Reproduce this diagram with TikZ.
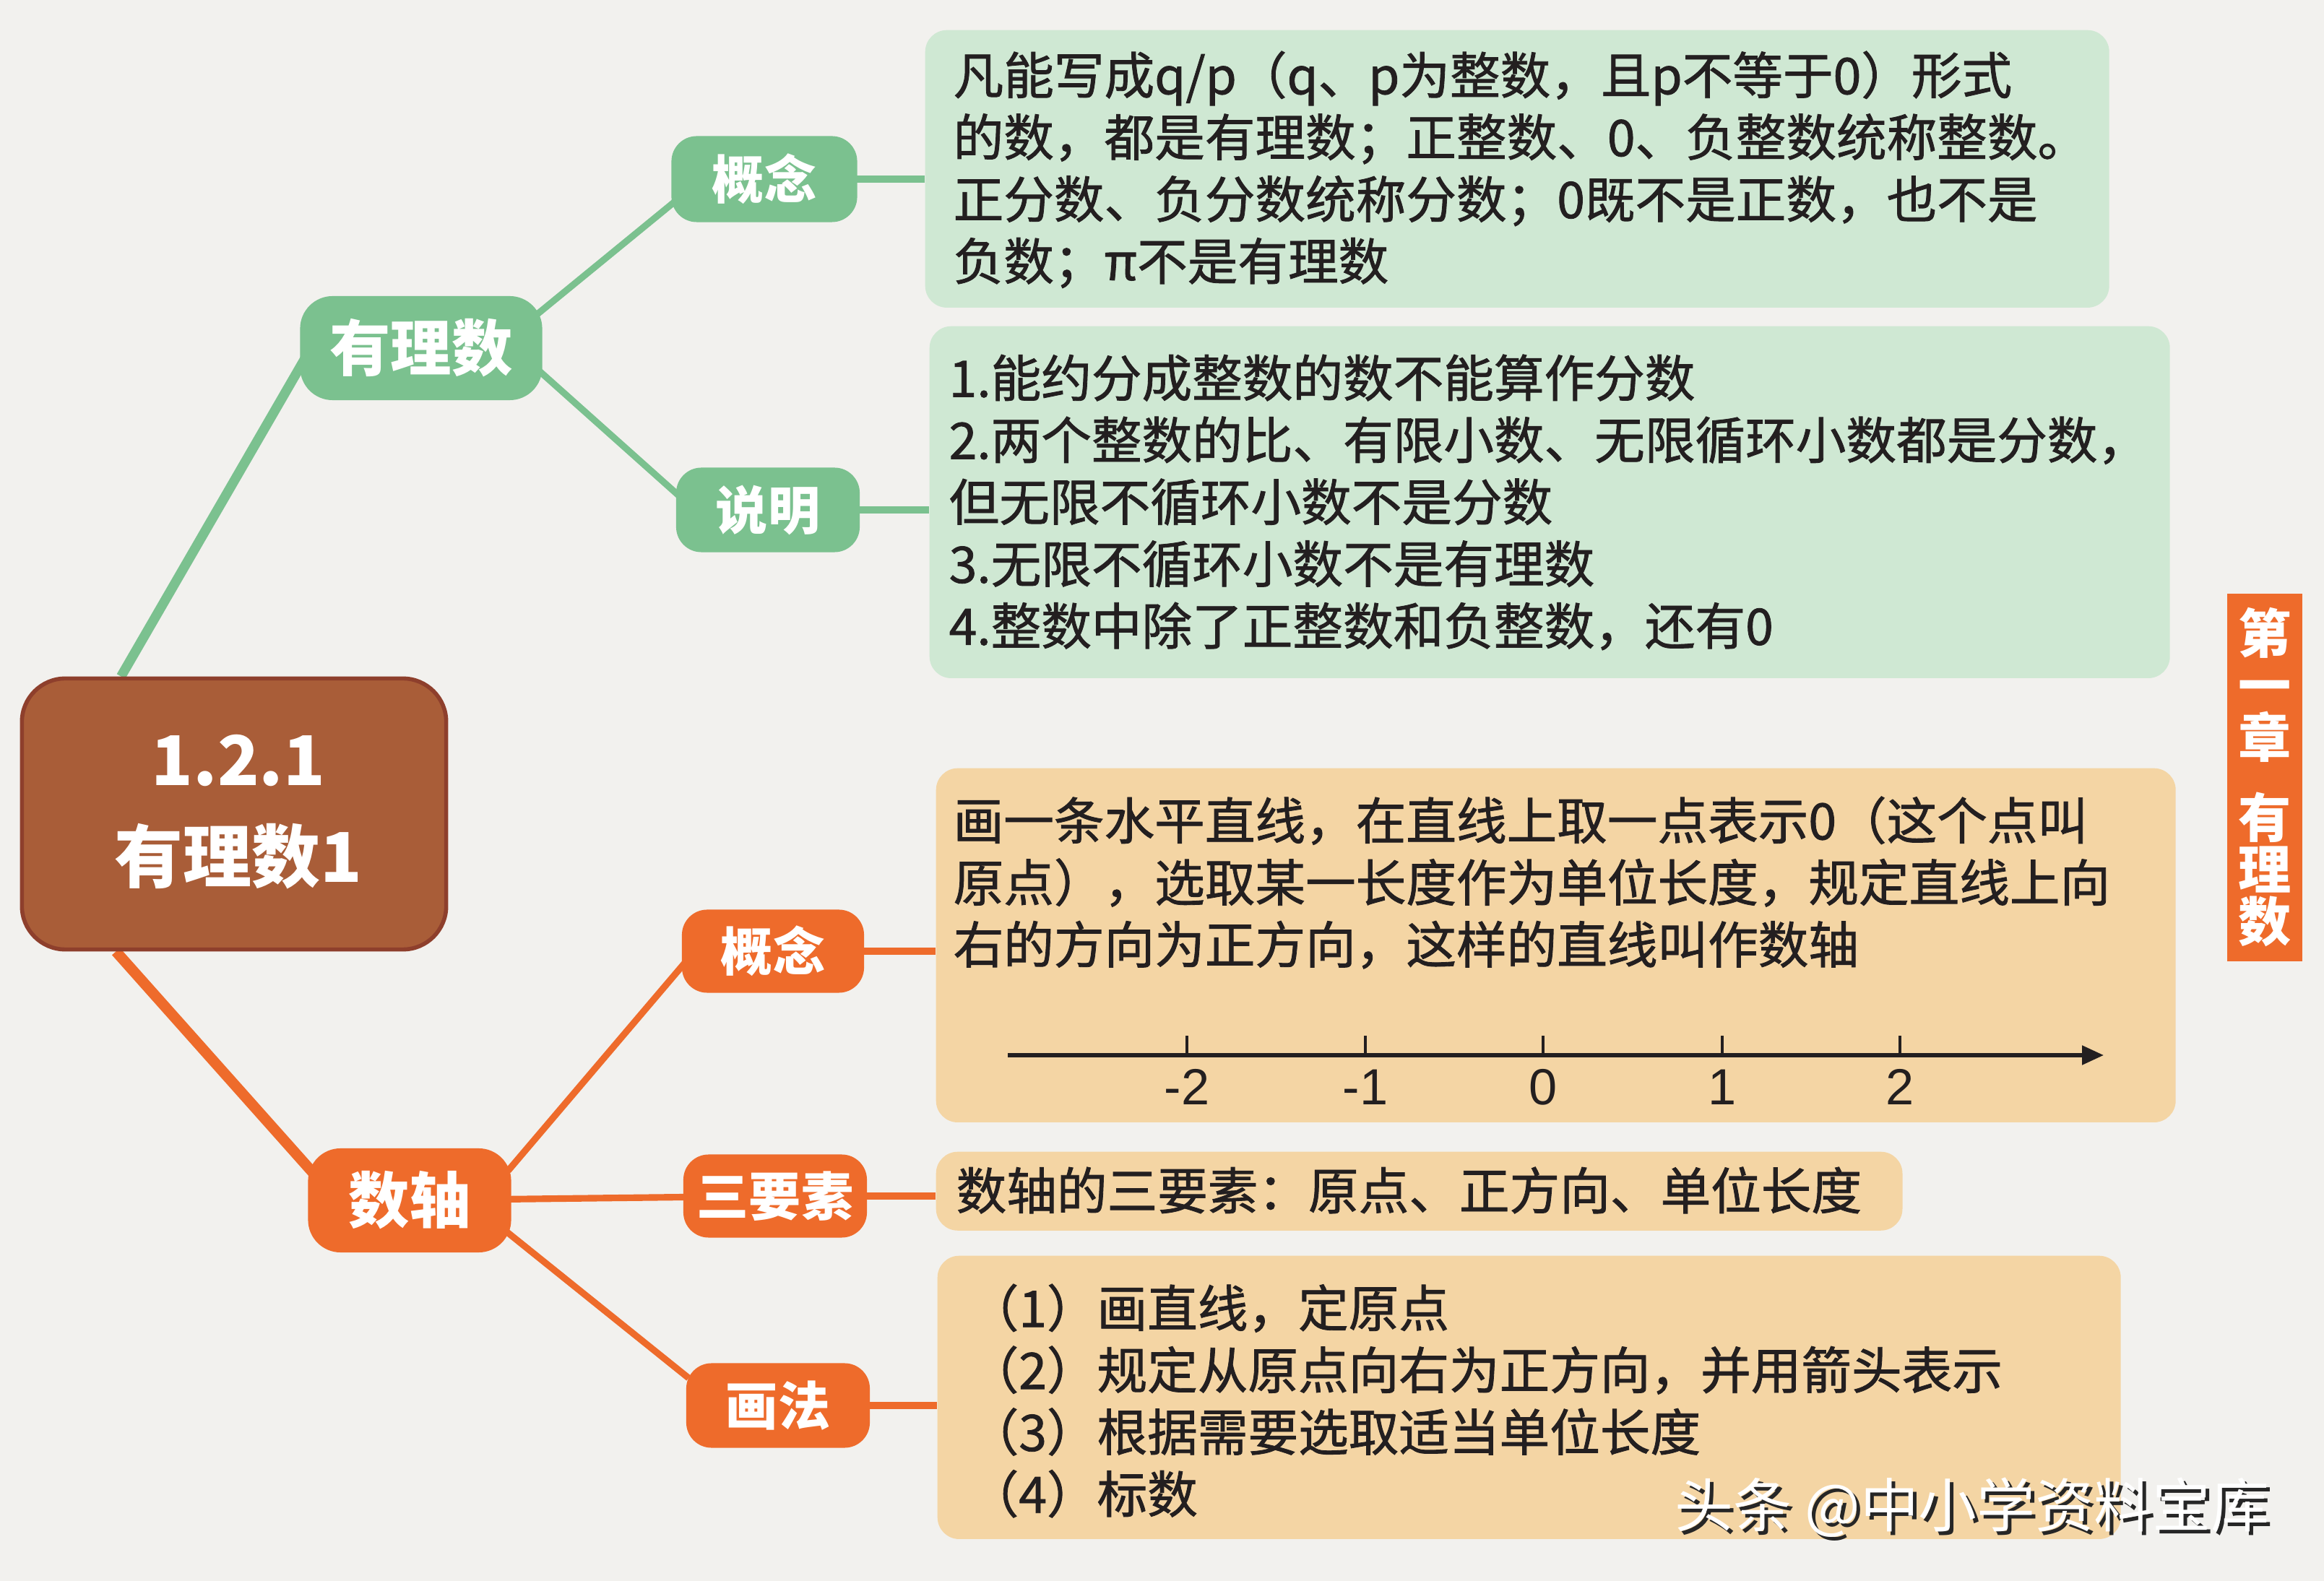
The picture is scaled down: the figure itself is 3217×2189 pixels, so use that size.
\documentclass[tikz,border=0pt]{standalone}
\usepackage{fontspec}
\setmainfont{Noto Sans CJK SC}
\newfontfamily\bodyfont{Noto Sans CJK SC}[FakeBold=1.2]
\newfontfamily\numfont{Liberation Sans}
\usetikzlibrary{arrows.meta,calc,backgrounds}
\definecolor{bg}{HTML}{F2F1EE}
\definecolor{gr}{HTML}{7BC18F}
\definecolor{lgr}{HTML}{CFE8D3}
\definecolor{org}{HTML}{EE6B2B}
\definecolor{peach}{HTML}{F4D5A4}
\definecolor{brownf}{HTML}{A95D38}
\definecolor{browne}{HTML}{8E3F2C}
\definecolor{ink}{HTML}{231F20}
\begin{document}
\begin{tikzpicture}[x=0.01cm,y=-0.01cm,
  txt/.style={font=\bodyfont\fontsize{19.8}{24.4}\selectfont, text=ink, align=left, anchor=north west, inner sep=0pt},
  gline/.style={line width=2.6pt, draw=gr},
  oline/.style={line width=2.6pt, draw=org},
  gmain/.style={line width=3.8pt, draw=gr},
  omain/.style={line width=4.2pt, draw=org},
  glabel/.style={fill=gr, text=white, rounded corners=0.35cm, minimum width=2.54cm, minimum height=1.17cm, font=\fontsize{20.5}{24}\selectfont\bfseries, inner sep=0pt},
  olabel/.style={glabel, fill=org},
  biglabel/.style={glabel, rounded corners=0.45cm, minimum height=1.44cm, font=\fontsize{24}{28}\selectfont\bfseries},
  gbox/.style={fill=lgr, rounded corners=0.3cm, anchor=north west, inner sep=0pt},
  obox/.style={fill=peach, rounded corners=0.3cm, anchor=north west, inner sep=0pt},
  ticklbl/.style={font=\numfont\fontsize{20}{24}\selectfont, text=ink, anchor=north, inner sep=0pt},
]
\path[use as bounding box] (0,0) rectangle (3217,2189);
\begin{scope}[on background layer]
  \fill[bg] (0,0) rectangle (3217,2189);
\end{scope}

% central node
\node[fill=brownf, draw=browne, line width=1.6pt, rounded corners=0.6cm,
      minimum width=5.87cm, minimum height=3.75cm, inner sep=0pt] (cb) at (324,1127) {};
\node[font=\fontsize{27}{38}\selectfont\bfseries, text=white, align=center] (cbt) at (330,1124) {1.2.1\\有理数1};

% green branch
\node[biglabel, minimum width=3.35cm] (yl) at (583,482) {有理数};
\node[glabel, minimum width=2.57cm, minimum height=1.19cm] (gn1) at (1058,248) {概念};
\node[glabel] (gn2) at (1063,706) {说明};

\node[gbox, minimum width=16.38cm, minimum height=3.84cm] (gb1) at (1280,41) {};
\node[gbox, minimum width=17.16cm, minimum height=4.87cm] (gb2) at (1286,451) {};

\node[txt] (gt1) at (1319,70) {凡能写成q/p（q、p为整数，且p不等于0）形式\\
的数，都是有理数；正整数、0、负整数统称整数。\\
正分数、负分数统称分数；0既不是正数，也不是\\
负数；π不是有理数};

\node[txt] (gt2) at (1313,490) {1.能约分成整数的数不能算作分数\\
2.两个整数的比、有限小数、无限循环小数都是分数，\\
但无限不循环小数不是分数\\
3.无限不循环小数不是有理数\\
4.整数中除了正整数和负整数，还有0};

% orange branch
\node[biglabel, fill=org, minimum width=2.81cm] (sz) at (567,1662) {数轴};
\node[olabel, minimum width=2.52cm, minimum height=1.15cm] (on1) at (1070,1317) {概念};
\node[olabel, minimum height=1.15cm] (on2) at (1073,1656) {三要素};
\node[olabel] (on3) at (1077,1946) {画法};

\node[obox, minimum width=17.15cm, minimum height=4.90cm] (ob1) at (1295,1063) {};
\node[obox, minimum width=13.37cm, minimum height=1.09cm] (ob2) at (1295,1594) {};
\node[obox, minimum width=16.37cm, minimum height=3.92cm] (ob3) at (1297,1738) {};

\node[txt] (ot1) at (1319,1102) {画一条水平直线，在直线上取一点表示0（这个点叫\\
原点），选取某一长度作为单位长度，规定直线上向\\
右的方向为正方向，这样的直线叫作数轴};

\node[txt, anchor=west] (ot2) at (1323,1648) {数轴的三要素：原点、正方向、单位长度};

\node[txt] (ot3) at (1340,1777) {（1）画直线，定原点\\
（2）规定从原点向右为正方向，并用箭头表示\\
（3）根据需要选取适当单位长度\\
（4）标数};

% number line
\coordinate (nlA) at (1395,1461);
\coordinate (nlB) at (2912,1461);
\draw[line width=1.5pt, draw=ink, -{Triangle[length=0.3cm,width=0.26cm]}] (nlA) -- (nlB);
\foreach \xx/\lb/\nm in {1643/-2/m2,1890/-1/m1,2136/0/z0,2384/1/p1,2630/2/p2}{
  \draw[line width=1.1pt, draw=ink] (\xx,1461) -- (\xx,1434);
  \node[ticklbl] (lbl\nm) at (\xx,1480) {\lb};
}

% side tab
\node[fill=org, minimum width=1.04cm, minimum height=5.09cm, inner sep=0pt, anchor=north west] (tab) at (3082,821) {};
\node[font=\fontsize{20.8}{20.5}\selectfont\bfseries, text=white, align=center, inner sep=0pt] (tabt) at (tab.center) {第\\一\\章\\[11pt]有\\理\\数};

% watermark
\node[font=\fontsize{23}{26}\selectfont, text=black!85, anchor=west, inner sep=0pt] (wms) at (2323,2092) {头条 @中小学资料宝库};
\node[font=\fontsize{23}{26}\selectfont, text=white, anchor=west, inner sep=0pt] (wm) at (2318,2087) {头条 @中小学资料宝库};

% connectors
\begin{scope}[on background layer]
  \draw[gmain] ($(cb.north west)+(140,0)$) -- ($(yl.west)+(10,10)$);
  \draw[gline] ($(yl.east)+(-10,-45)$) -- ($(gn1.west)+(8,29)$);
  \draw[gline] ($(yl.east)+(-10,27)$) -- ($(gn2.west)+(12,-13)$);
  \draw[gline] (gn1.center) -- (gn1.center -| gb1.west);
  \draw[gline] (gn2.center) -- (gn2.center -| gb2.west);
  \draw[omain] ($(cb.south west)+(133,0)$) -- ($(sz.west)+(14,-31)$);
  \draw[oline] ($(sz.east)+(-5,-41)$) -- ($(on1.west)+(4,17)$);
  \draw[oline] (sz.center) -- (on2.center);
  \draw[oline] ($(sz.east)+(-10,41)$) -- ($(on3.west)+(4,-38)$);
  \draw[oline] (on1.center) -- (on1.center -| ob1.west);
  \draw[oline] (on2.center) -- (on2.center -| ob2.west);
  \draw[oline] (on3.center) -- (on3.center -| ob3.west);
\end{scope}
\end{tikzpicture}
\end{document}
